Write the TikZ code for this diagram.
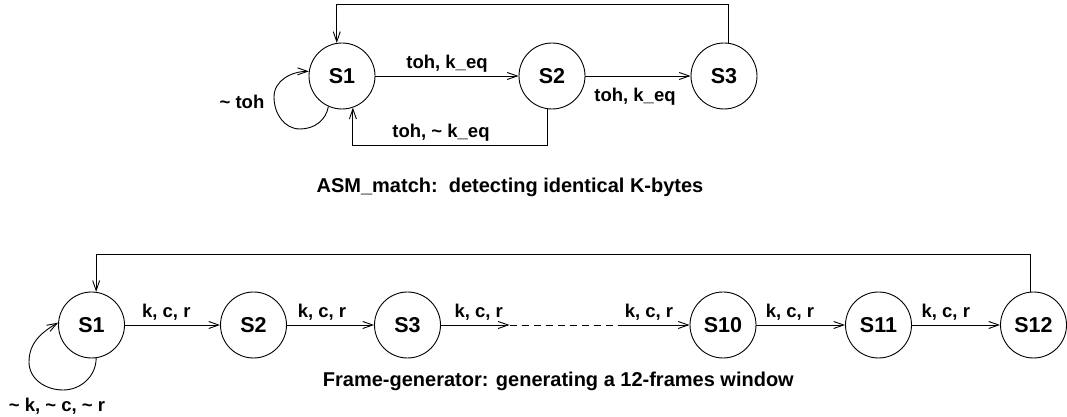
\documentclass[tikz,border=0pt]{standalone}
\usepackage{fontspec}
\setmainfont{Liberation Sans}
\usetikzlibrary{arrows.meta}
\begin{document}
\begin{tikzpicture}[x=1pt,y=1pt,
  line width=0.9pt,
  state/.style={circle,draw,minimum size=66pt,inner sep=0pt,font=\fontsize{21.5}{24}\selectfont\bfseries},
  lbl/.style={font=\fontsize{18.5}{21}\selectfont\bfseries,inner sep=0pt},
  captext/.style={font=\fontsize{20}{23}\selectfont\bfseries,inner sep=0pt},
  arr/.style={-{Straight Barb[length=10pt,width=7pt]}},
  gap/.style={dash pattern=on 7pt off 5pt}]
\useasboundingbox (0,0) rectangle (1067,417);

% ---- ASM_match state machine ----
\node[state] (t1) at (342,341) {S1};
\node[state] (t2) at (552,341) {S2};
\node[state] (t3) at (724,341) {S3};

\draw[arr] (t1.east) -- (t2.west);
\draw[arr] (t2.east) -- (t3.west);
\draw[arr] (t3.83) -- ++(0,38) -| (t1.99);
\draw[arr] (t2.-97) -- ++(0,-36) -| (t1.-71);
\draw[arr] (t1.-114) to[out=-100,in=0] (300,288)
                     to[out=180,in=-90] (274,320)
                     to[out=90,in=180] (t1.172);

\node[lbl] (l12) at (447,353) {toh, k\_eq};
\node[lbl] (l23) at (635,320) {toh, k\_eq};
\node[lbl] (l21) at (441,284) {toh, \textasciitilde{} k\_eq};
\node[lbl] (l11) at (242,315) {\textasciitilde{} toh};
\node[captext] (capA) at (510,230) {ASM\_match:\ \ detecting identical K-bytes};

% ---- Frame-generator state machine ----
\node[state] (b1)  at (91.5,92) {S1};
\node[state] (b2)  at (253.5,92) {S2};
\node[state] (b3)  at (407.5,92) {S3};
\node[state] (b10) at (723,92)  {S10};
\node[state] (b11) at (878.5,92) {S11};
\node[state] (b12) at (1033.5,92) {S12};
\coordinate (d1) at (509.5,92);
\coordinate (d2) at (623,92);

\draw[arr] (b1.east) -- (b2.west);
\draw[arr] (b2.east) -- (b3.west);
\draw[arr] (b3.east) -- (d1);
\draw[gap] (d1) -- (d2);
\draw[arr] (d2) -- (b10.west);
\draw[arr] (b10.east) -- (b11.west);
\draw[arr] (b11.east) -- (b12.west);
\draw[arr] (b12.96) -- ++(0,37) -| (b1.82);
\draw[arr] (b1.-82) to[out=-90,in=0] (63,27)
                    to[out=180,in=-90] (29,55)
                    to[out=90,in=210] (b1.176);

\node[lbl] (k1) at (166.3,104.5) {k, c, r};
\node[lbl] (k2) at (322,104.5)   {k, c, r};
\node[lbl] (k3) at (478.7,104.5) {k, c, r};
\node[lbl] (k4) at (649,104.5)   {k, c, r};
\node[lbl] (k5) at (790,104.5)   {k, c, r};
\node[lbl] (k6) at (945.8,104.5) {k, c, r};
\node[lbl] (kl) at (57,11) {\textasciitilde{} k, \textasciitilde{} c, \textasciitilde{} r};
\node[captext] (capB) at (558.4,35.5) {Frame-generator: generating a 12-frames window};
\end{tikzpicture}
\end{document}
